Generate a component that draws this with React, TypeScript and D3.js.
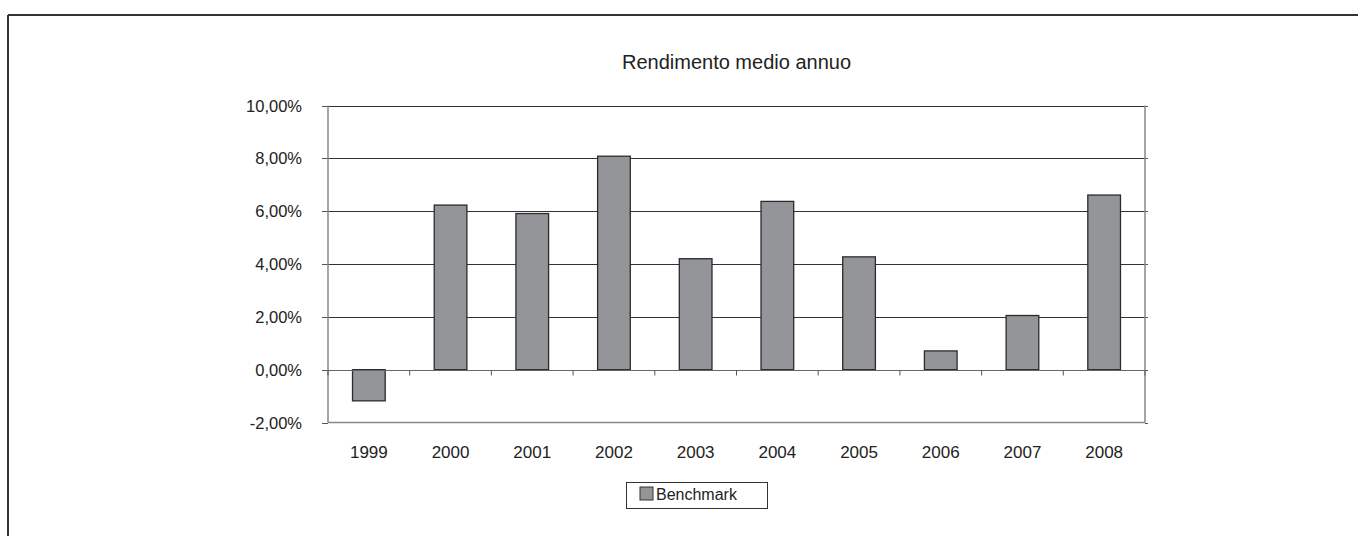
import React from "react";
import * as d3 from "d3";

const categories = ["1999", "2000", "2001", "2002", "2003", "2004", "2005", "2006", "2007", "2008"];
const benchmark = [-1.18, 6.23, 5.91, 8.08, 4.2, 6.37, 4.27, 0.71, 2.05, 6.61];
const yTicks = [-2, 0, 2, 4, 6, 8, 10];
const title = "Rendimento medio annuo";
const seriesName = "Benchmark";

const W = 1358, H = 536;
const plot = { left: 328, right: 1145, top: 105.5, bottom: 422.5 };
const font = "Liberation Sans, Arial, sans-serif";

export default function App() {
  const x = d3.scaleBand<string>().domain(categories).range([plot.left, plot.right]).paddingInner(0.6).paddingOuter(0.3);
  const xb = d3.scaleBand<string>().domain(categories).range([plot.left, plot.right]);
  const y = d3.scaleLinear().domain([-2, 10]).range([plot.bottom, plot.top]);
  const fmt = (v: number) => v.toFixed(2).replace(".", ",") + "%";
  const y0 = Math.round(y(0)) + 0.5;
  const boundaries = categories.map((c) => xb(c)!).concat([plot.right]);
  return (
    <svg width={W} height={H} style={{ position: "absolute", left: 0, top: 0, background: "#fff" }}>
      <line x1={8} y1={15} x2={W} y2={15} stroke="#333" strokeWidth={2} />
      <line x1={8} y1={15} x2={8} y2={H} stroke="#333" strokeWidth={2} />
      <text x={(plot.left + plot.right) / 2} y={69} textAnchor="middle" fontFamily={font} fontSize={20} fill="#222">{title}</text>
      {yTicks.map((t) => {
        const yy = Math.round(y(t)) + 0.5;
        return (
          <g key={t}>
            {t > -2 && t !== 0 && <line x1={plot.left} x2={plot.right} y1={yy} y2={yy} stroke="#333" strokeWidth={1.2} />}
            <line x1={plot.left - 6} x2={plot.left} y1={yy} y2={yy} stroke="#555" />
            <line x1={plot.right} x2={plot.right + 3} y1={yy} y2={yy} stroke="#555" />
            <text x={302} y={yy} dy="0.35em" textAnchor="end" fontFamily={font} fontSize={16.5} fill="#222">{fmt(t)}</text>
          </g>
        );
      })}
      <line x1={plot.left} x2={plot.left} y1={plot.top} y2={plot.bottom} stroke="#888" strokeWidth={1.5} />
      <line x1={plot.right} x2={plot.right} y1={plot.top} y2={plot.bottom} stroke="#888" strokeWidth={1.5} />
      <line x1={plot.left} x2={plot.right} y1={plot.bottom} y2={plot.bottom} stroke="#888" strokeWidth={1.5} />
      {categories.map((c, i) => {
        const v = benchmark[i];
        const top = y(Math.max(0, v));
        const bot = y(Math.min(0, v));
        return (
          <rect key={c} x={x(c)!} y={top} width={x.bandwidth()} height={bot - top} fill="#939598" stroke="#2b2b2b" strokeWidth={1.3} />
        );
      })}
      <line x1={plot.left} x2={plot.right} y1={y0} y2={y0} stroke="#666" strokeWidth={1.2} />
      {boundaries.map((b, i) => (
        <line key={i} x1={b} x2={b} y1={y0} y2={y0 + 5} stroke="#555" />
      ))}
      {categories.map((c) => (
        <text key={c} x={xb(c)! + xb.bandwidth() / 2} y={458} textAnchor="middle" fontFamily={font} fontSize={17} fill="#222">{c}</text>
      ))}
      <rect x={626.5} y={482.5} width={141} height={26} fill="#fff" stroke="#333" strokeWidth={1} />
      <rect x={640} y={487} width={13} height={13} fill="#939598" stroke="#333" strokeWidth={1} />
      <text x={656} y={500} fontFamily={font} fontSize={16} fill="#222">{seriesName}</text>
    </svg>
  );
}
